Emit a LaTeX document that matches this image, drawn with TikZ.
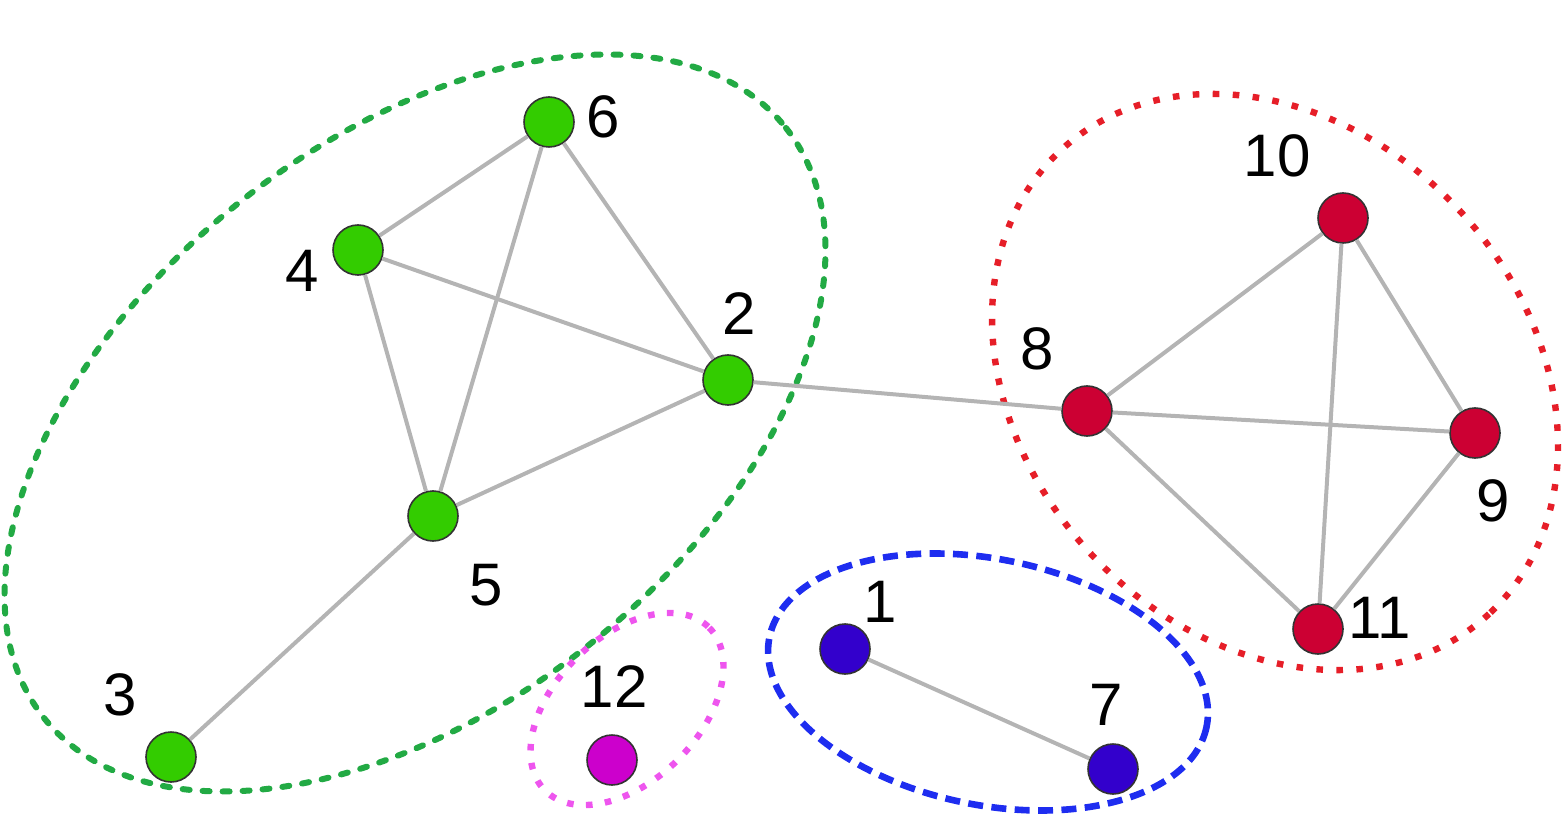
\documentclass[tikz,border=0pt]{standalone}
\usepackage{fontspec}
\setmainfont{Liberation Sans}
\definecolor{vgreen}{RGB}{51,204,0}
\definecolor{vred}{RGB}{204,0,51}
\definecolor{vblue}{RGB}{51,0,204}
\definecolor{vmag}{RGB}{204,0,204}
\definecolor{edgegray}{RGB}{180,180,180}
\definecolor{cgreen}{RGB}{34,170,68}
\definecolor{cred}{RGB}{230,30,40}
\definecolor{cblue}{RGB}{30,45,240}
\definecolor{cpink}{RGB}{238,85,238}
\begin{document}
\begin{tikzpicture}[x=0.5pt,y=-0.5pt,
  vert/.style={circle,draw=black!80,line width=0.8pt,minimum size=25pt,inner sep=0pt},
  lbl/.style={inner sep=0pt,font=\fontsize{30}{30}\selectfont},
  edge/.style={draw=edgegray,line width=2pt},
  grpgreen/.style={draw=cgreen,line width=3pt,line cap=round,dash pattern=on 3.5pt off 6.5pt},
  grpred/.style={draw=cred,line width=3.2pt,dash pattern=on 3.3pt off 6.7pt},
  grpblue/.style={draw=cblue,line width=3.3pt,dash pattern=on 7.5pt off 4.2pt},
  grppink/.style={draw=cpink,line width=3.2pt,dash pattern=on 3.3pt off 6.2pt}]
\useasboundingbox (0,0) rectangle (1566,817);
% groups
\draw[grpgreen,rotate around={38.5:(415,423)}] (415,423) ellipse [x radius=474, y radius=282];
\draw[grpred,rotate around={-47.3:(1275,382)}] (1275,382) ellipse [x radius=315.6, y radius=251.9];
\draw[grpblue,rotate around={-11.6:(988,682)}] (988,682) ellipse [x radius=223.1, y radius=122.9];
\draw[grppink,rotate around={44.7:(627,709)}] (627,709) ellipse [x radius=115.6, y radius=71.9];
% vertices
\node[vert,fill=vgreen] (v6) at (549,122) {};
\node[vert,fill=vgreen] (v4) at (358,250) {};
\node[vert,fill=vgreen] (v2) at (728,380) {};
\node[vert,fill=vgreen] (v5) at (433,516) {};
\node[vert,fill=vgreen] (v3) at (171,757) {};
\node[vert,fill=vred] (v10) at (1343,218) {};
\node[vert,fill=vred] (v8) at (1087,411) {};
\node[vert,fill=vred] (v9) at (1475,433) {};
\node[vert,fill=vred] (v11) at (1318,629) {};
\node[vert,fill=vblue] (v1) at (845,649) {};
\node[vert,fill=vblue] (v7) at (1113,769) {};
\node[vert,fill=vmag] (v12) at (612,760) {};
% edges
\foreach \a/\b in {v6/v4,v6/v5,v6/v2,v4/v2,v4/v5,v5/v2,v5/v3,v2/v8,v8/v10,v8/v9,v8/v11,v10/v9,v10/v11,v9/v11,v1/v7}
  \draw[edge] (\a) -- (\b);
% labels
\node[lbl] (l6) at (603,117) {6};
\node[lbl] (l4) at (302,271) {4};
\node[lbl] (l2) at (739,314) {2};
\node[lbl] (l5) at (486,585) {5};
\node[lbl] (l3) at (120,695) {3};
\node[lbl] (l10) at (1277,156) {10};
\node[lbl] (l8) at (1037,349) {8};
\node[lbl] (l9) at (1493,501) {9};
\node[lbl] (l11) at (1380,618) {11};
\node[lbl] (l1) at (880,602) {1};
\node[lbl] (l7) at (1106,705) {7};
\node[lbl] (l12) at (614,687) {12};
\end{tikzpicture}
\end{document}
